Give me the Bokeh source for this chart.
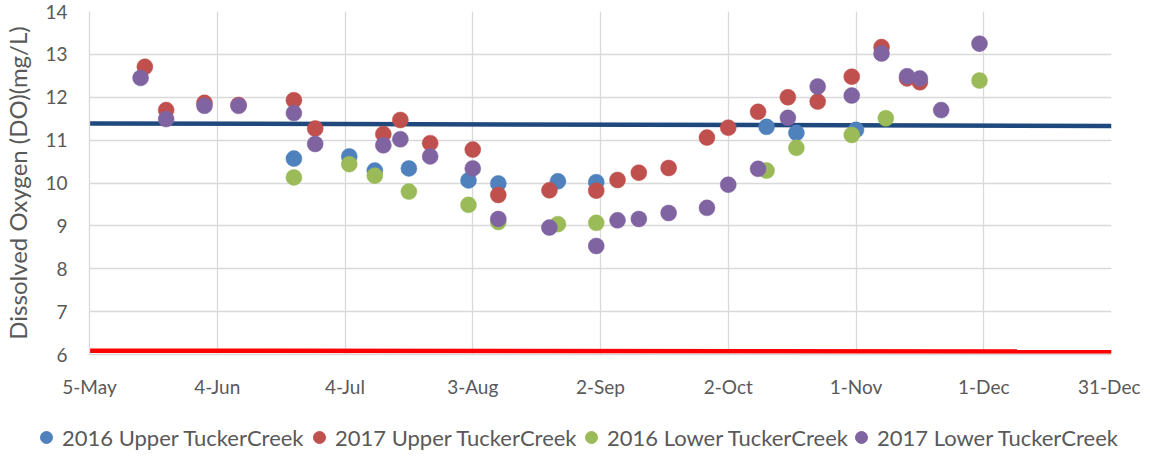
import pandas as pd
from bokeh.plotting import figure
from bokeh.layouts import column
from bokeh.models import ColumnDataSource, FixedTicker, Legend, LegendItem, Range1d
from bokeh.embed import file_html
from bokeh.resources import INLINE

# ---- data (season dates, MM-DD) ----
up16_dates = ["06-22", "07-05", "07-11", "07-19", "08-02", "08-09", "08-23", "09-01",
              "10-11", "10-18", "11-01"]
up16_do = [10.57, 10.62, 10.29, 10.34, 10.06, 9.99, 10.04, 10.02, 11.31, 11.17, 11.24]

up17_dates = ["05-18", "05-23", "06-01", "06-09", "06-22", "06-27", "07-13", "07-17",
              "07-24", "08-03", "08-09", "08-21", "09-01", "09-06", "09-11", "09-18",
              "09-27", "10-02", "10-09", "10-16", "10-23", "10-31", "11-07", "11-13", "11-16"]
up17_do = [12.71, 11.70, 11.87, 11.82, 11.93, 11.27, 11.14, 11.47, 10.93, 10.78, 9.72,
           9.83, 9.82, 10.07, 10.24, 10.35, 11.06, 11.29, 11.66, 12.00, 11.90, 12.48,
           13.17, 12.44, 12.35]

lo16_dates = ["06-22", "07-05", "07-11", "07-19", "08-02", "08-09", "08-23", "09-01",
              "10-11", "10-18", "10-31", "11-08", "11-30"]
lo16_do = [10.13, 10.44, 10.17, 9.80, 9.49, 9.09, 9.04, 9.07, 10.29, 10.82, 11.12, 11.51, 12.39]

lo17_dates = ["05-17", "05-23", "06-01", "06-09", "06-22", "06-27", "07-13", "07-17",
              "07-24", "08-03", "08-09", "08-21", "09-01", "09-06", "09-11", "09-18",
              "09-27", "10-02", "10-09", "10-16", "10-23", "10-31", "11-07", "11-13",
              "11-16", "11-21", "11-30"]
lo17_do = [12.45, 11.49, 11.80, 11.80, 11.63, 10.91, 10.88, 11.02, 10.62, 10.34, 9.16,
           8.96, 8.53, 9.13, 9.16, 9.30, 9.42, 9.96, 10.33, 11.52, 12.25, 12.04, 13.02,
           12.49, 12.44, 11.70, 13.25]

series_names = ["2016 Upper TuckerCreek", "2017 Upper TuckerCreek",
                "2016 Lower TuckerCreek", "2017 Lower TuckerCreek"]

# reference lines
target_dates = ["05-05", "12-31"]
target_do = [11.39, 11.33]
minimum_dates = ["05-05", "12-31"]
minimum_do = [6.09, 6.07]

tick_labels = ["5-May", "4-Jun", "4-Jul", "3-Aug", "2-Sep", "2-Oct", "1-Nov", "1-Dec", "31-Dec"]
tick_days = [0, 30, 60, 90, 120, 150, 180, 210, 240]

START = pd.Timestamp("2001-05-05")


def to_days(dates):
    return [(pd.Timestamp("2001-" + d) - START).days for d in dates]


TXT = "#595959"
FONT = "Lato"
COLORS = ["#4F81BD", "#C0504D", "#9BBB59", "#8064A2"]

p = figure(frame_width=1022, frame_height=343, output_backend="svg", toolbar_location=None,
           x_range=Range1d(0, 240), y_range=Range1d(6, 14),
           min_border_left=83, min_border_top=11, min_border_right=29, min_border_bottom=50)
p.frame_align = False
p.outline_line_color = None
p.background_fill_color = "white"
p.border_fill_color = "white"

# grid
p.xgrid.grid_line_color = "#D9D9D9"
p.ygrid.grid_line_color = "#D9D9D9"
p.xgrid.grid_line_width = 1.3
p.ygrid.grid_line_width = 1.3

# axes
p.xaxis.ticker = FixedTicker(ticks=tick_days)
p.xaxis.major_label_overrides = {d: l for d, l in zip(tick_days, tick_labels)}
p.yaxis.ticker = FixedTicker(ticks=list(range(6, 15)))
for ax in (p.xaxis[0], p.yaxis[0]):
    ax.axis_line_color = "#D9D9D9"
    ax.axis_line_width = 1.3
    ax.major_tick_line_color = None
    ax.minor_tick_line_color = None
    ax.major_label_text_color = TXT
    ax.major_label_text_font = FONT
    ax.major_label_text_font_size = "19px"
p.xaxis.major_label_standoff = 14
p.yaxis.major_label_standoff = 16
p.yaxis.axis_label = "Dissolved Oxygen (DO)(mg/L)"
p.yaxis.axis_label_text_font = FONT
p.yaxis.axis_label_text_font_style = "normal"
p.yaxis.axis_label_text_font_size = "24px"
p.yaxis.axis_label_text_color = TXT
p.yaxis.axis_label_standoff = 10

# reference lines
p.line(to_days(target_dates), target_do, line_color="#1F497D", line_width=4.5)
p.line(to_days(minimum_dates), minimum_do, line_color="#FF0000", line_width=4.5)

series_data = [(up16_dates, up16_do), (up17_dates, up17_do),
               (lo16_dates, lo16_do), (lo17_dates, lo17_do)]
sources = []
for (dates, vals), col in zip(series_data, COLORS):
    src = ColumnDataSource(dict(x=to_days(dates), y=vals))
    sources.append(src)
    p.scatter("x", "y", source=src, size=16, fill_color=col, line_color=col, line_width=0.5)

# legend strip below the chart
leg = figure(width=1134, height=48, output_backend="svg", toolbar_location=None,
             x_axis_type=None, y_axis_type=None, x_range=Range1d(0, 1), y_range=Range1d(0, 1),
             min_border=0)
leg.frame_align = False
leg.outline_line_color = None
leg.grid.visible = False
leg_left = [31, 304, 576, 846]
for name, src, col, lx in zip(series_names, sources, COLORS, leg_left):
    r = leg.scatter("x", "y", source=src, size=16, fill_color=col, line_color=col)
    lg = Legend(items=[LegendItem(label=name, renderers=[r])], orientation="horizontal",
                location=(lx, 0), label_text_font=FONT, label_text_font_size="22px",
                label_text_color=TXT, glyph_width=30, glyph_height=30, label_standoff=1,
                border_line_color=None, background_fill_alpha=0, padding=0, margin=0)
    leg.add_layout(lg, "center")

layout = column(p, leg, spacing=0)
open("out.html", "w").write(file_html(layout, INLINE))
